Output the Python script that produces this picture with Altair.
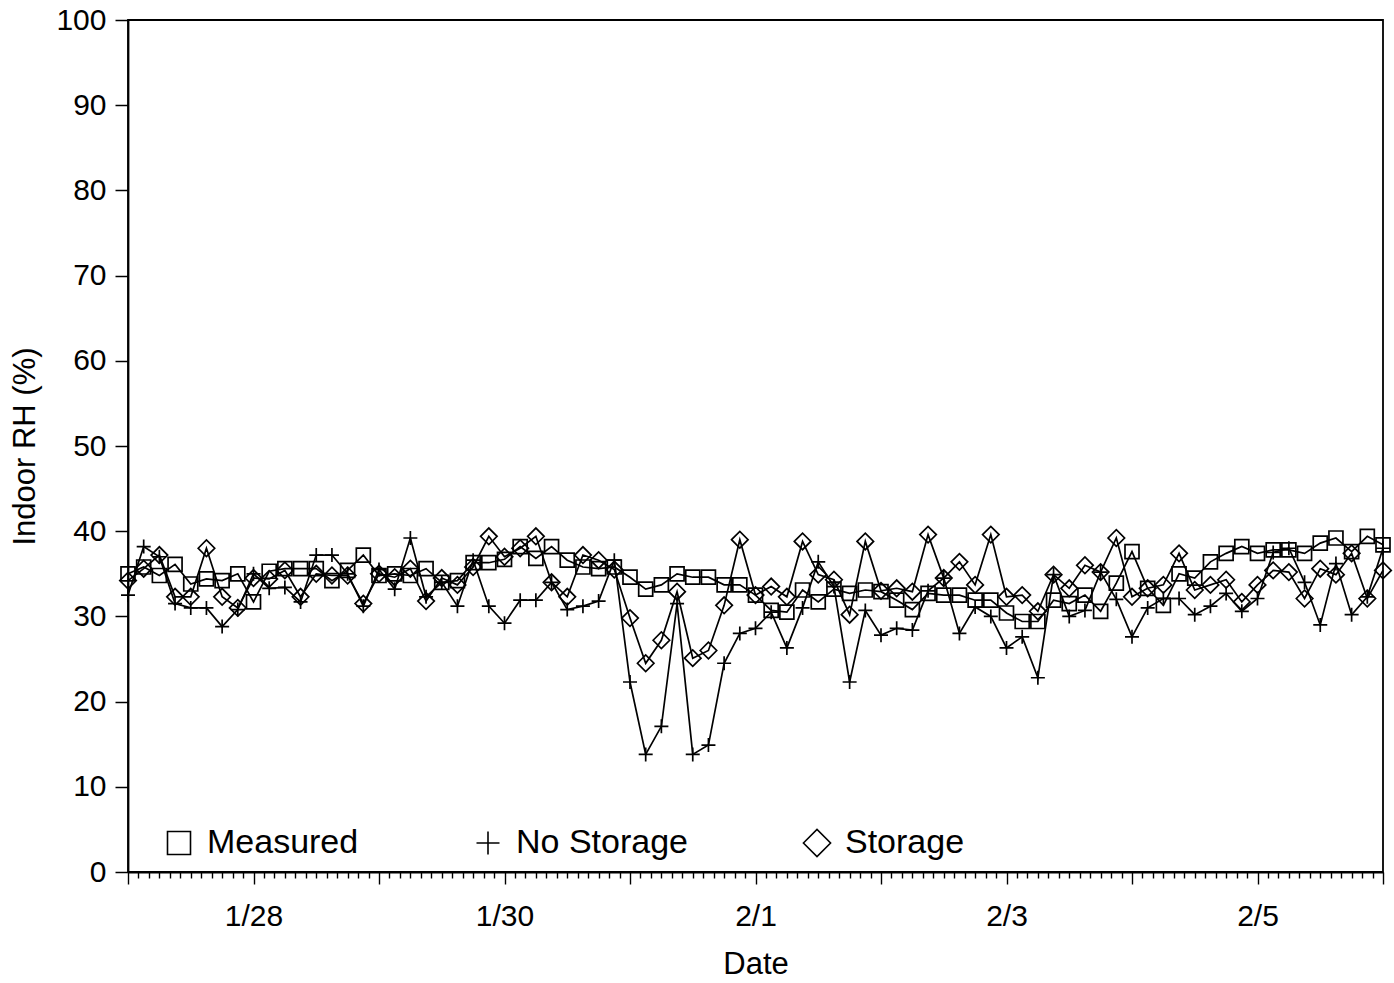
import json
import altair as alt
import pandas as pd

# Indoor relative humidity, one reading every 3 hours from 1/27 00:00 to 2/6 00:00
hours = [3 * i for i in range(81)]

measured = [
    35.0, 35.8, 34.8, 36.1, 33.8, 34.4, 34.2, 35.0, 31.7, 35.3,
    35.6, 35.6, 35.6, 34.2, 35.4, 37.2, 34.8, 35.0, 34.8, 35.6,
    34.0, 34.2, 36.3, 36.3, 36.7, 38.2, 36.8, 38.2, 36.6, 35.8,
    35.6, 35.8, 34.6, 33.2, 33.7, 35.0, 34.6, 34.6, 33.7, 33.7,
    32.5, 30.7, 30.5, 33.1, 31.7, 33.2, 32.7, 33.1, 32.9, 31.9,
    30.8, 32.7, 32.5, 32.5, 31.9, 31.9, 30.4, 29.4, 29.4, 31.9,
    31.5, 32.5, 30.6, 33.9, 37.6, 33.3, 31.3, 35.0, 34.5, 36.4,
    37.4, 38.2, 37.4, 37.8, 37.8, 37.4, 38.6, 39.2, 37.6, 39.4,
    38.4,
]

no_storage = [
    32.5, 38.2, 37.0, 31.5, 31.0, 31.0, 28.8, 30.8, 35.0, 33.3,
    33.4, 31.7, 37.2, 37.2, 35.0, 31.2, 35.5, 33.2, 39.2, 32.3,
    34.0, 31.2, 36.6, 31.2, 29.2, 31.9, 31.9, 34.0, 30.8, 31.2,
    31.8, 36.6, 22.3, 13.8, 17.1, 31.5, 13.8, 14.9, 24.5, 28.0,
    28.6, 30.5, 26.3, 31.0, 36.4, 33.5, 22.3, 30.7, 27.8, 28.6,
    28.4, 33.0, 34.5, 28.0, 31.1, 30.0, 26.3, 27.6, 22.8, 34.9,
    30.0, 30.7, 35.2, 32.0, 27.6, 31.0, 32.1, 32.1, 30.2, 31.2,
    32.7, 30.6, 32.1, 37.5, 38.0, 34.0, 29.0, 36.2, 30.2, 32.3,
    38.0,
]

storage = [
    34.2, 35.6, 37.2, 32.3, 32.3, 38.0, 32.3, 31.0, 34.5, 34.4,
    35.4, 32.3, 35.0, 34.8, 34.8, 31.5, 35.0, 34.6, 35.6, 31.8,
    34.5, 33.7, 35.8, 39.4, 37.0, 38.0, 39.4, 34.0, 32.3, 37.2,
    36.6, 35.5, 29.8, 24.5, 27.2, 32.9, 25.1, 26.0, 31.3, 39.0,
    32.5, 33.5, 32.3, 38.8, 34.9, 34.3, 30.2, 38.8, 33.0, 33.3,
    32.9, 39.6, 34.5, 36.4, 33.7, 39.6, 32.3, 32.5, 30.6, 34.9,
    33.3, 36.0, 35.2, 39.2, 32.3, 33.3, 33.7, 37.4, 33.1, 33.7,
    34.3, 31.7, 33.7, 35.4, 35.2, 32.1, 35.6, 34.9, 37.4, 32.1,
    35.4,
]

series_names = ["Measured", "No Storage", "Storage"]
day_labels = ["1/27", "1/28", "1/29", "1/30", "1/31", "2/1",
              "2/2", "2/3", "2/4", "2/5", "2/6"]
y_ticks = list(range(0, 101, 10))

frames = []
for name, vals in zip(series_names, [measured, no_storage, storage]):
    frames.append(pd.DataFrame({"hour": hours, "rh": vals, "series": name}))
df = pd.concat(frames, ignore_index=True)

# open marker outlines: square, plus, diamond
shape_paths = [
    "M-1,-1L1,-1L1,1L-1,1Z",
    "M-1,0L1,0M0,-1L0,1",
    "M-1.18,0L0,-1.18L1.18,0L0,1.18Z",
]

FONT = "Liberation Sans"

label_expr = ("datum.value % 48 === 24 ? " + json.dumps(day_labels)
              + "[datum.value / 24] : ''")

x_enc = alt.X(
    "hour:Q",
    scale=alt.Scale(domain=[0, 240], nice=False, zero=False),
    axis=alt.Axis(
        title="Date",
        values=list(range(0, 241, 2)),
        labelExpr=label_expr,
        tickSize={"condition": {"test": "datum.value % 24 === 0", "value": 12},
                  "value": 6},
        labelPadding=17,
        labelFontSize=30,
        labelFont=FONT,
        labelColor="black",
        labelFlush=False,
        labelOverlap=False,
        titleFontSize=31,
        titleFont=FONT,
        titleFontWeight="normal",
        titleColor="black",
        titlePadding=18,
        domainColor="black",
        domainWidth=1.8,
        tickColor="black",
        tickWidth=1.4,
        grid=False,
    ),
)

y_enc = alt.Y(
    "rh:Q",
    scale=alt.Scale(domain=[0, 100], nice=False),
    axis=alt.Axis(
        title="Indoor RH (%)",
        values=y_ticks,
        tickSize=13,
        tickWidth=1.5,
        tickColor="black",
        labelPadding=9,
        labelFontSize=30,
        labelFont=FONT,
        labelColor="black",
        titleFontSize=31,
        titleFont=FONT,
        titleFontWeight="normal",
        titleColor="black",
        titlePadding=14,
        domainColor="black",
        domainWidth=1.8,
        grid=False,
    ),
)

lines = alt.Chart(df).mark_line(color="black", strokeWidth=1.7).encode(
    x=x_enc,
    y=y_enc,
    detail="series:N",
)

points = alt.Chart(df).mark_point(
    filled=False, color="black", strokeWidth=1.7, size=196, opacity=1
).encode(
    x=x_enc,
    y=y_enc,
    shape=alt.Shape(
        "series:N",
        scale=alt.Scale(domain=series_names, range=shape_paths),
        legend=alt.Legend(
            title=None,
            orient="none",
            legendX=34,
            legendY=806,
            direction="horizontal",
            symbolSize=529,
            symbolStrokeWidth=1.6,
            symbolStrokeColor="black",
            symbolFillColor="transparent",
            labelFontSize=34,
            labelFont=FONT,
            labelColor="black",
            labelOffset=11,
            labelLimit=400,
            columnPadding=112,
        ),
    ),
)

chart = (
    alt.layer(lines, points)
    .properties(
        width=1255,
        height=852,
        padding={"left": 128, "top": 20, "right": 11, "bottom": 111},
        autosize=alt.AutoSizeParams(type="none"),
        background="white",
    )
    .configure_view(stroke="black", strokeWidth=1.8)
)

chart.save("out.html", embed_options={"renderer": "svg", "actions": False})
